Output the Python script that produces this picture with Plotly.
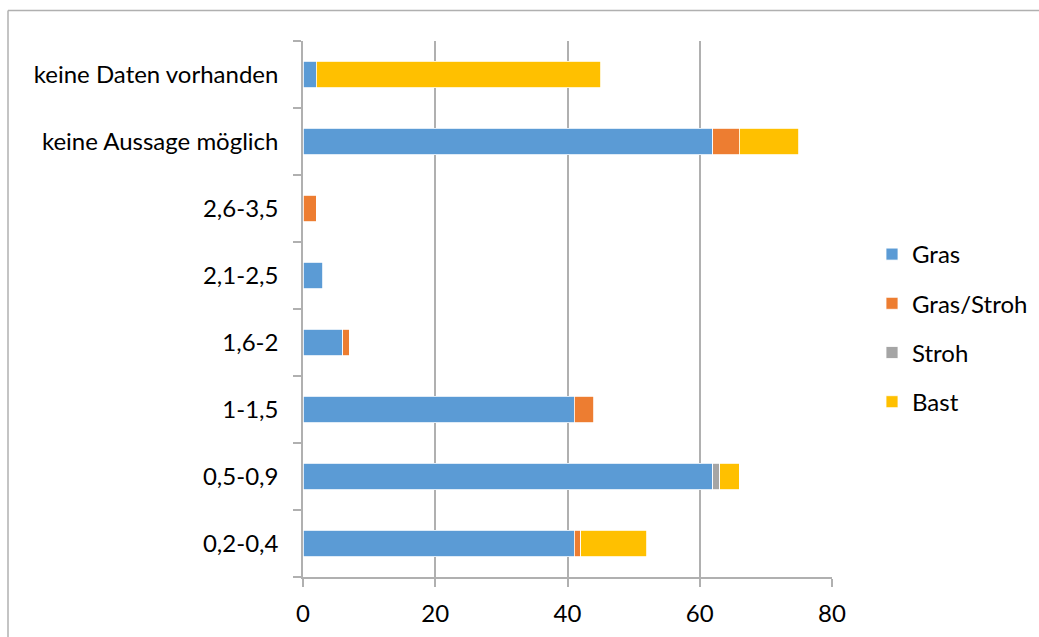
import plotly.graph_objects as go

categories = ["0,2-0,4", "0,5-0,9", "1-1,5", "1,6-2", "2,1-2,5", "2,6-3,5",
              "keine Aussage möglich", "keine Daten vorhanden"]
gras = [41, 62, 41, 6, 3, 0, 62, 2]
gras_stroh = [1, 0, 3, 1, 0, 2, 4, 0]
stroh = [0, 1, 0, 0, 0, 0, 0, 0]
bast = [10, 3, 0, 0, 0, 0, 9, 43]
x_ticks = [0, 20, 40, 60, 80]

series = [("Gras", gras, "#5B9BD5"),
          ("Gras/Stroh", gras_stroh, "#ED7D31"),
          ("Stroh", stroh, "#A5A5A5"),
          ("Bast", bast, "#FFC000")]

W, H = 1039, 637
L, R, T, B = 303, 832, 41, 577
FONT = "Lato"

fig = go.Figure()
for name, vals, col in series:
    fig.add_trace(go.Bar(
        y=categories, x=[v if v else None for v in vals], name=name,
        orientation="h", marker=dict(color=col, line=dict(color="white", width=0.8)),
        legendgroup=name,
    ))

fig.update_layout(
    width=W, height=H,
    margin=dict(l=L, r=W - R, t=T, b=H - B, autoexpand=False),
    barmode="stack", bargap=0.6,
    paper_bgcolor="white", plot_bgcolor="white",
    font=dict(family=FONT, size=24, color="#000000"),
    showlegend=True,
    legend=dict(x=(872 - L) / (R - L), xanchor="left", y=(B - 232) / (B - T), yanchor="top",
                traceorder="grouped", tracegroupgap=15, font=dict(size=24),
                bgcolor="rgba(0,0,0,0)", itemwidth=30),
    xaxis=dict(range=[0, 80], tickvals=x_ticks, showgrid=True, gridcolor="#b0b0b0", gridwidth=1.5,
               showline=True, linecolor="#b0b0b0", linewidth=1.5, ticks="outside", ticklen=8,
               tickcolor="#b0b0b0", tickwidth=1.5, zeroline=False, ticklabelstandoff=6,
               fixedrange=True),
    yaxis=dict(type="category", showline=True, linecolor="#b0b0b0", linewidth=1.5,
               ticks="outside", ticklen=8, tickcolor="#b0b0b0", tickwidth=1.5,
               tickson="boundaries", showgrid=False, ticklabelstandoff=18, fixedrange=True),
)

# chart frame (left and top edges visible in reference)
xl = (8 - L) / (R - L)
xr = (W + 5 - L) / (R - L)
yt = (B - 10.5) / (B - T)
yb = (B - H - 5) / (B - T)
fig.add_shape(type="line", xref="paper", yref="paper", x0=xl, x1=xl, y0=yb, y1=yt,
              line=dict(color="#b0b0b0", width=1.5))
fig.add_shape(type="line", xref="paper", yref="paper", x0=xl, x1=xr, y0=yt, y1=yt,
              line=dict(color="#b0b0b0", width=1.5))

fig.write_html("out.html")
